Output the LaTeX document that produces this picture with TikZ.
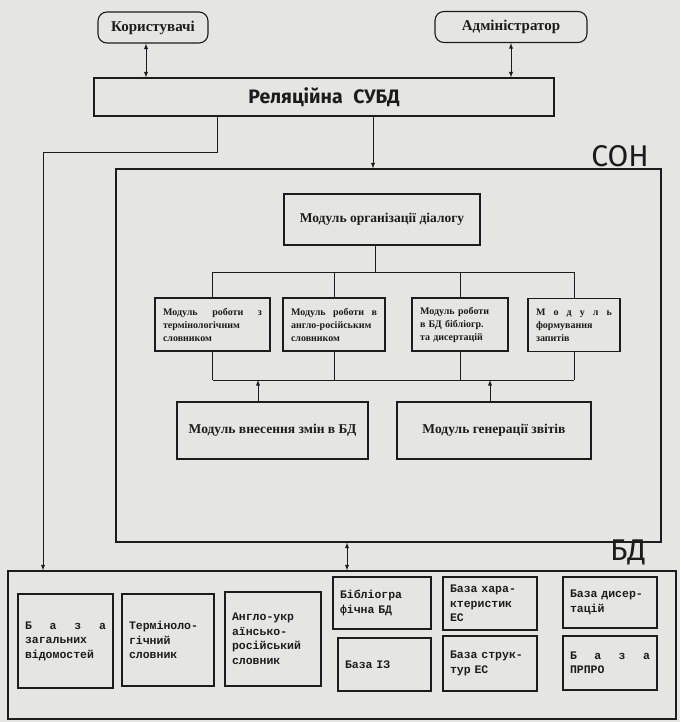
\documentclass[tikz,border=0pt]{standalone}
\usepackage{fontspec}
\setmainfont{Liberation Serif}
\setsansfont{Fira Sans}
\setmonofont{Liberation Mono}
\usetikzlibrary{calc}
\definecolor{color_scan_paper}{HTML}{E5E5E1}
\definecolor{color_scan_ink}{HTML}{1C1C1C}
\def\scanline{1.1pt}
\def\scanwire{0.9pt}

\begin{document}
\begin{tikzpicture}[x=1pt, y=-1pt, >=latex, color=color_scan_ink,
    actor/.style={draw, rounded corners=9pt, line width=\scanline, inner sep=0pt,
        font=\bfseries\fontsize{15}{17}\selectfont},
    part/.style={draw, line width=\scanline, inner sep=0pt},
    module/.style={draw, line width=1.3pt, inner xsep=8pt, inner ysep=0pt, align=left,
        font=\bfseries\fontsize{10}{13}\selectfont},
    bigmodule/.style={draw, line width=1.3pt, inner sep=0pt,
        font=\bfseries\fontsize{13.5}{15}\selectfont},
    store/.style={draw, line width=1.3pt, inner xsep=7pt, inner ysep=0pt, align=left,
        font=\ttfamily\bfseries\fontsize{11.5}{14.5}\selectfont},
    title/.style={font=\sffamily\fontsize{30}{32}\selectfont},
    wire/.style={line width=\scanwire}]
        % paper
        \fill[color_scan_paper] (0,0) rectangle (680,722);
        \useasboundingbox (0,0) rectangle (680,722);

        % users and the relational DBMS
        \node[actor, minimum width=110, minimum height=31] (users) at (153,27.5) {Користувачі};
        \node[actor, minimum width=152, minimum height=31] (admin) at (511,27) {Адміністратор};
        \node[part, minimum width=460, minimum height=38,
            font=\sffamily\bfseries\fontsize{19.5}{21}\selectfont] (dbms) at (324,97) {Реляційна\hspace{6pt} СУБД};
        \draw[wire, <->] ([xshift=-7pt]users.south) -- ([xshift=-7pt]users.south |- dbms.north);
        \draw[wire, <->] (admin.south) -- (admin.south |- dbms.north);

        % СОН frame
        \node[part, minimum width=545, minimum height=373] (son) at (388.5,355.5) {};
        \node[title] (son_label) at (620,156) {СОН};
        \draw[wire, ->] ([xshift=49pt]dbms.south) -- ([xshift=49pt]dbms.south |- son.north);

        % modules
        \node[bigmodule, minimum width=196, minimum height=51] (dialog) at (382,219.5) {Модуль організації діалогу};
        \node[module, text width=99, minimum height=53] (modterm) at (212.5,324.5)
            {Модуль\hfill роботи\hfill з\\термінологічним\\словником};
        \node[module, text width=86, minimum height=53] (modengl) at (334,324.5)
            {Модуль\hfill роботи\hfill в\\англо-російським\\словником};
        \node[module, text width=80, minimum height=53] (modbibl) at (460,324.5)
            {Модуль роботи\\в БД бібліогр.\\та дисертацій};
        \node[module, text width=76, minimum height=53] (modquery) at (574,325)
            {М\hfill о\hfill д\hfill у\hfill л\hfill ь\\формування\\запитів};
        \node[bigmodule, minimum width=191, minimum height=57] (modedit) at (272.5,430.5) {Модуль внесення змін в БД};
        \node[bigmodule, minimum width=194, minimum height=57] (modreport) at (494,430.5) {Модуль генерації звітів};

        % buses inside СОН
        \coordinate (bus_top) at (0,272);
        \coordinate (bus_bot) at (0,380);
        \draw[wire] ([xshift=-7pt]dialog.south) -- ([xshift=-7pt]dialog.south |- bus_top);
        \draw[wire] (modterm.north |- bus_top) -- (modquery.north |- bus_top);
        \draw[wire] (modterm.south |- bus_bot) -- (modquery.south |- bus_bot);
        \foreach \m in {modterm,modengl,modbibl,modquery} {
            \draw[wire] (\m.north |- bus_top) -- (\m.north);
            \draw[wire] (\m.south) -- (\m.south |- bus_bot);
        }
        \draw[wire, ->] ([xshift=-14.5pt]modedit.north) -- ([xshift=-14.5pt]modedit.north |- bus_bot);
        \draw[wire, ->] ([xshift=-4pt]modreport.north) -- ([xshift=-4pt]modreport.north |- bus_bot);

        % БД frame
        \node[part, minimum width=668, minimum height=148] (bd) at (342,645) {};
        \node[title] (bd_label) at (628,552) {БД};
        \coordinate (bend) at (43,152);
        \draw[wire, ->] ([xshift=-107pt]dbms.south) |- (bend) -- (bend |- bd.north);
        \draw[wire, <->] ([xshift=-41.5pt]son.south) -- ([xshift=-41.5pt]son.south |- bd.north);

        % data stores
        \node[store, text width=81, minimum height=94] (dbgen) at (65.5,641)
            {Б\hfill а\hfill з\hfill а\\загальних\\відомостей};
        \node[store, text width=78, minimum height=92] (dbterm) at (168,640)
            {Терміноло-\\гічний\\словник};
        \node[store, text width=82, minimum height=94] (dbengl) at (273,639)
            {Англо-укр\\аїнсько-\\російський\\словник};
        \node[store, text width=84, minimum height=52] (dbbibl) at (382,603)
            {Бібліогра\\фічна БД};
        \node[store, text width=79, minimum height=53] (dbiz) at (384.5,664.5) {База ІЗ};
        \node[store, text width=80, minimum height=53] (dbchar) at (490,603.5)
            {База хара-\\ктеристик\\ЕС};
        \node[store, text width=80, minimum height=55] (dbstruct) at (490,663.5)
            {База струк-\\тур ЕС};
        \node[store, text width=80, minimum height=51] (dbdiss) at (610,602.5)
            {База дисер-\\тацій};
        \node[store, text width=80, minimum height=54] (dbprpro) at (610,663)
            {Б\hfill а\hfill з\hfill а\\ПРПРО};
    \end{tikzpicture}
\end{document}
